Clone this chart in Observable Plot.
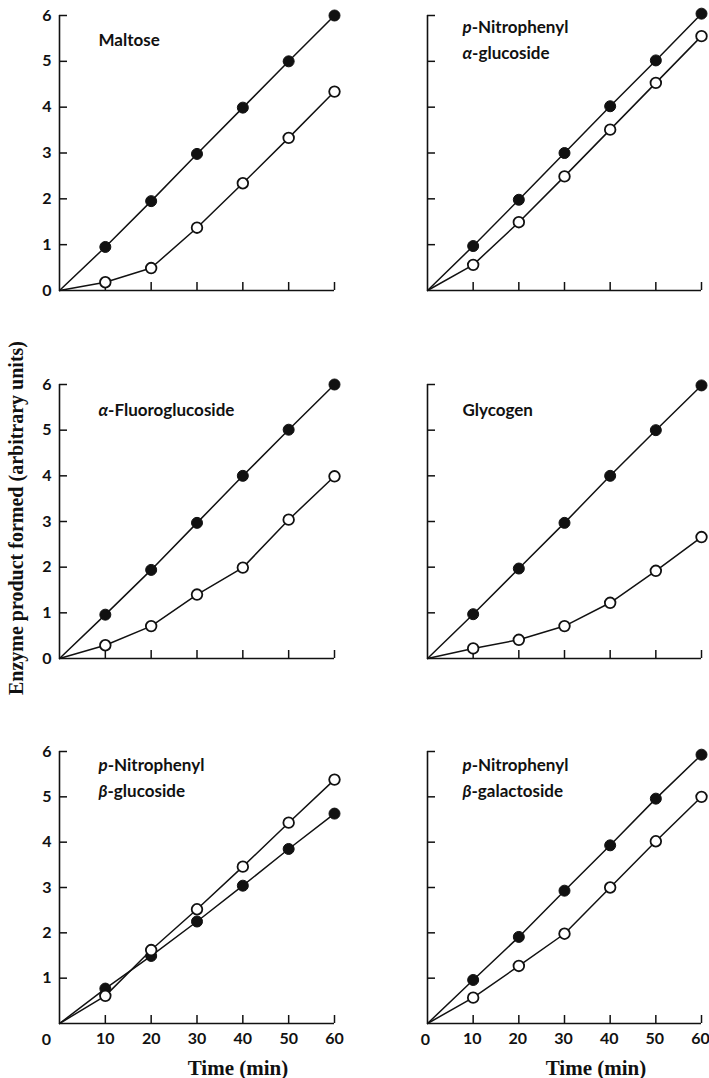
<!DOCTYPE html>
<html>
<head>
<meta charset="utf-8">
<script src="https://cdn.jsdelivr.net/npm/d3@7"></script>
<script src="https://cdn.jsdelivr.net/npm/@observablehq/plot@0.6"></script>
<style>
  html, body { margin: 0; padding: 0; background: #fff; }
  #wrap { position: relative; width: 709px; height: 1078px; overflow: hidden; background: #fff; }
  .panel { position: absolute; }
  .panel svg { overflow: visible; }
  #ylab { position: absolute; left: 16px; top: 518px; transform: translate(-50%, -50%) rotate(-90deg);
          font-family: "Liberation Serif", "DejaVu Serif", serif; font-size: 20px; font-weight: bold; white-space: nowrap; color: #111; }
  .xlab { position: absolute; top: 1068px; transform: translate(-50%, -50%);
          font-family: "Liberation Serif", "DejaVu Serif", serif; font-size: 21px; font-weight: bold; white-space: nowrap; color: #111; }
</style>
</head>
<body>
<div id="wrap">
  <div id="ylab">Enzyme product formed (arbitrary units)</div>
  <div class="xlab" style="left:238px">Time (min)</div>
  <div class="xlab" style="left:596px">Time (min)</div>
</div>
<script>
// ---- data ----
const times = [0, 10, 20, 30, 40, 50, 60];
const xTicks = [10, 20, 30, 40, 50, 60];
const yTicks = [1, 2, 3, 4, 5, 6];
const yTickLabelsTop = [0, 1, 2, 3, 4, 5, 6];
const yTickLabelsBottom = [1, 2, 3, 4, 5, 6];
const xTickLabels = [10, 20, 30, 40, 50, 60];

const titles = [
  ["Maltose"],
  ["p-Nitrophenyl", "α-glucoside"],
  ["α-Fluoroglucoside"],
  ["Glycogen"],
  ["p-Nitrophenyl", "β-glucoside"],
  ["p-Nitrophenyl", "β-galactoside"]
];

const maltoseFilled = [0, 0.95, 1.95, 2.98, 3.99, 5.0, 6.0];
const maltoseOpen   = [0, 0.18, 0.49, 1.37, 2.34, 3.33, 4.34];
const pnpAGlcFilled = [0, 0.97, 1.98, 3.0, 4.02, 5.02, 6.04];
const pnpAGlcOpen   = [0, 0.56, 1.49, 2.49, 3.51, 4.53, 5.55];
const fluoroFilled  = [0, 0.96, 1.94, 2.97, 4.0, 5.01, 6.0];
const fluoroOpen    = [0, 0.29, 0.71, 1.40, 1.99, 3.04, 3.99];
const glycogenFilled = [0, 0.97, 1.97, 2.97, 4.0, 5.0, 5.98];
const glycogenOpen   = [0, 0.22, 0.41, 0.71, 1.22, 1.92, 2.66];
const pnpBGlcFilled = [0, 0.77, 1.49, 2.25, 3.04, 3.85, 4.63];
const pnpBGlcOpen   = [0, 0.61, 1.62, 2.52, 3.46, 4.43, 5.38];
const pnpBGalFilled = [0, 0.96, 1.91, 2.93, 3.93, 4.96, 5.93];
const pnpBGalOpen   = [0, 0.57, 1.27, 1.98, 3.0, 4.02, 5.0];

const filledSeries = [maltoseFilled, pnpAGlcFilled, fluoroFilled, glycogenFilled, pnpBGlcFilled, pnpBGalFilled];
const openSeries   = [maltoseOpen, pnpAGlcOpen, fluoroOpen, glycogenOpen, pnpBGlcOpen, pnpBGalOpen];

// ---- layout ----
const rowTop = [0, 340, 700];
const rowHeight = [340, 360, 378];
const rowMarginTop = [15, 44, 51];
const rowMarginBottom = [50, 42, 55];
const colLeft = [0, 354];
const colWidth = [354, 355];
const colMarginLeft = [59, 73];
const colMarginRight = [20, 8];
const titleDx = [39, 35];
const titleDy = [22, 23, 24];

const wrap = document.getElementById("wrap");
const ns = "http://www.w3.org/2000/svg";

function toPoints(vals) { return times.map((t, i) => ({t, v: vals[i]})); }

function italicizeFirst(svg) {
  svg.querySelectorAll("text, tspan").forEach(el => {
    if (el.children.length) return;
    const s = el.textContent;
    if (/^[pαβ]-/.test(s)) {
      el.textContent = "";
      const a = document.createElementNS(ns, "tspan");
      a.setAttribute("font-style", "italic");
      a.textContent = s[0];
      el.appendChild(a);
      el.appendChild(document.createTextNode(s.slice(1)));
    }
  });
}

for (let i = 0; i < 6; i++) {
  const row = Math.floor(i / 2), col = i % 2;
  const W = colWidth[col], H = rowHeight[row];
  const mL = colMarginLeft[col], mR = colMarginRight[col];
  const mT = rowMarginTop[row], mB = rowMarginBottom[row];
  const innerW = W - mL - mR, innerH = H - mT - mB;
  const filled = toPoints(filledSeries[i]);
  const open = toPoints(openSeries[i]);
  const sansFont = "Lato, 'Open Sans', 'DejaVu Sans', sans-serif";

  const marks = [
    Plot.ruleX([0], {stroke: "#111", strokeWidth: 1.6}),
    Plot.ruleY([0], {stroke: "#111", strokeWidth: 1.6}),
    Plot.tickY(yTicks, {y: d => d, stroke: "#111", strokeWidth: 1.5, insetRight: innerW - 8}),
    Plot.tickX(xTicks, {x: d => d, stroke: "#111", strokeWidth: 1.5, insetTop: innerH - 8}),
    Plot.line(filled, {x: "t", y: "v", stroke: "#111", strokeWidth: 1.5}),
    Plot.line(open, {x: "t", y: "v", stroke: "#111", strokeWidth: 1.5}),
    Plot.dot(filled.filter(d => d.t > 0), {x: "t", y: "v", r: 5.5, fill: "#111", stroke: "#111", strokeWidth: 1}),
    Plot.dot(open.filter(d => d.t > 0), {x: "t", y: "v", r: 5.3, fill: "#fff", stroke: "#111", strokeWidth: 1.8}),
    Plot.text([titles[i].join("\n")], {
      frameAnchor: "top-left", textAnchor: "start", lineAnchor: "middle",
      dx: titleDx[col], dy: titleDy[row], lineHeight: 1.55,
      fontSize: 17, fontWeight: "bold", fontFamily: sansFont, fill: "#111"
    })
  ];
  if (col === 0) {
    marks.push(Plot.axisY({
      ticks: row === 2 ? yTickLabelsBottom : yTickLabelsTop,
      tickFormat: d => String(d),
      tickSize: 0, tickPadding: 8, label: null,
      fontSize: 16, fontWeight: "bold", fontFamily: sansFont, fill: "#111"
    }));
  }
  if (row === 2) {
    marks.push(Plot.axisX({
      ticks: xTickLabels, tickFormat: d => String(d),
      tickSize: 0, tickPadding: 9, label: null, dx: col === 0 ? 0 : -1,
      fontSize: 16, fontWeight: "bold", fontFamily: sansFont, fill: "#111"
    }));
    marks.push(Plot.text([0], {
      x: d => d, y: () => 0, text: d => String(d), dx: col === 0 ? -13 : -2, dy: 16,
      fontSize: 16, fontWeight: "bold", fontFamily: sansFont, fill: "#111"
    }));
  }

  const svg = Plot.plot({
    width: W, height: H,
    marginLeft: mL, marginRight: mR, marginTop: mT, marginBottom: mB,
    x: {domain: [0, 60], axis: null},
    y: {domain: [0, 6], axis: null},
    style: {background: "transparent", color: "#111", fontFamily: sansFont, overflow: "visible"},
    marks
  });
  italicizeFirst(svg);
  const div = document.createElement("div");
  div.className = "panel";
  div.style.left = colLeft[col] + "px";
  div.style.top = rowTop[row] + "px";
  div.style.width = W + "px";
  div.style.height = H + "px";
  div.appendChild(svg);
  wrap.appendChild(div);
}
</script>
</body>
</html>
